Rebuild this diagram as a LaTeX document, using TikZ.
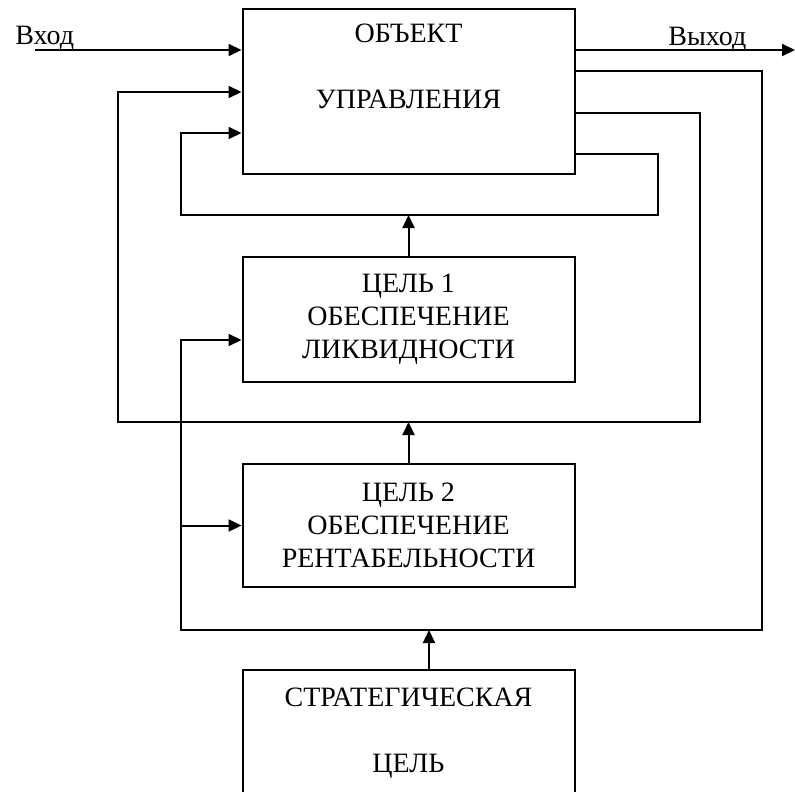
\documentclass[tikz,border=0pt]{standalone}
\usepackage{fontspec}
\setmainfont{Liberation Serif}
\usetikzlibrary{positioning,arrows.meta,calc}
\tikzset{
  block/.style={rectangle, draw=black, line width=1pt, minimum width=166pt, inner sep=0pt, align=center, font=\fontsize{14}{16.5}\selectfont},
  caption/.style={inner sep=0pt, align=center, font=\fontsize{14}{16.5}\selectfont},
  connect/.style={-{Triangle[length=6.5pt, width=6pt]}, line width=1pt}
}

\begin{document}
\begin{tikzpicture}[x=0.5pt, y=-0.5pt]
  \path[use as bounding box, clip] (0,0) rectangle (795,791);
  % boxes
  \node[block, minimum height=82.5pt] (obj) at (408.5,91.5) {};
  \node[caption, anchor=north] (objtext) at (obj.north |- 0,24) {ОБЪЕКТ\\[16.5pt]УПРАВЛЕНИЯ};
  \node[block, minimum height=62.5pt, below=40.5pt of obj] (goal1) {ЦЕЛЬ 1\\ОБЕСПЕЧЕНИЕ\\ЛИКВИДНОСТИ};
  \node[block, minimum height=61.5pt, below=40pt of goal1] (goal2) {ЦЕЛЬ 2\\ОБЕСПЕЧЕНИЕ\\РЕНТАБЕЛЬНОСТИ};
  \node[block, minimum height=80pt, below=40.5pt of goal2] (strat) {};
  \node[caption, anchor=north] (strattext) at (strat.north |- 0,688) {СТРАТЕГИЧЕСКАЯ\\[16.5pt]ЦЕЛЬ};
  % input / output
  \coordinate (in) at (35,50);
  \coordinate (out) at (795,50);
  \node[caption, anchor=base west] (inlbl) at (15,45) {Вход};
  \node[caption, anchor=base west] (outlbl) at (668,46) {Выход};
  \draw[connect] (in) -- (in -| obj.west);
  \draw[connect] (obj.east |- out) -- (out);
  % feedback loops
  \coordinate (a1) at (762,71);
  \coordinate (a3) at (181,630);
  \coordinate (b1) at (700,113);
  \coordinate (b2) at (118,422);
  \coordinate (c1) at (658,154);
  \coordinate (c2) at (181,215);
  \draw[connect] (obj.east |- c1) -| (c2 -| c1) -- (c2) |- (obj.west |- 0,133);
  \draw[connect] (obj.east |- b1) -| (b2 -| b1) -- (b2) |- (obj.west |- 0,92);
  \draw[connect] (obj.east |- a1) -| (a3 -| a1) -- (a3) |- ($(goal1.west)+(0,20.5)$);
  \draw[connect] (a3 |- goal2.west) -- (goal2.west);
  % goals upward
  \coordinate (s) at (429,630);
  \draw[connect] (goal1.north) -- (goal1.north |- c2);
  \draw[connect] (goal2.north) -- (goal2.north |- b2);
  \draw[connect] (s |- strat.north) -- (s);
\end{tikzpicture}
\end{document}
